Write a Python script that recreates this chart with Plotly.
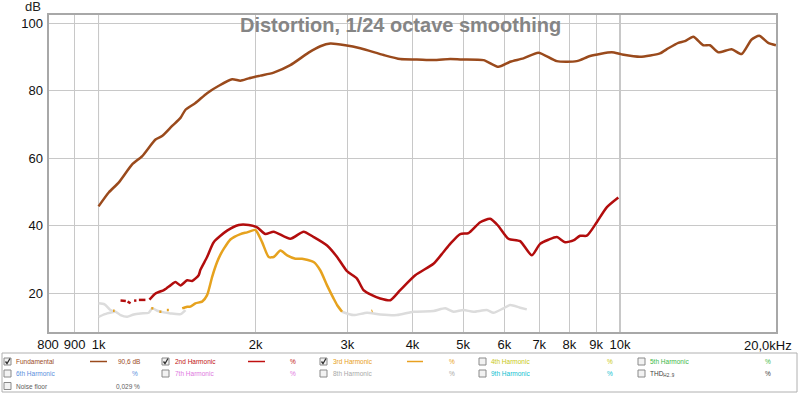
import plotly.graph_objects as go

# ---------------- data ----------------
fund_freq = [1000, 1046, 1094, 1160, 1213, 1286, 1324, 1384, 1436, 1468, 1534, 1615, 1701, 1804, 1871,
             1941, 2043, 2167, 2332, 2528, 2663, 2783, 2973, 3177, 3521, 3789, 4078, 4388, 4724, 4938,
             5473, 5846, 6156, 6528, 6975, 7564, 8260, 8762, 9641, 10076, 10922, 11929, 12377, 12935,
             13322, 13819, 14443, 14874, 15430, 16368, 17110, 17882, 18492, 19239, 19905]
fund_db = [45.8, 49.9, 52.9, 58.2, 60.7, 65.6, 66.6, 69.6, 72.0, 74.4, 76.4, 79.3, 81.5, 83.4, 83.0,
           83.7, 84.5, 85.4, 87.6, 91.3, 93.2, 94.0, 93.5, 92.6, 90.6, 89.4, 89.3, 89.1, 89.4, 89.3,
           89.1, 87.1, 88.6, 89.6, 91.3, 88.8, 88.8, 90.3, 91.4, 90.8, 90.1, 91.1, 92.6, 94.2,
           94.7, 96.0, 93.5, 93.5, 91.4, 92.3, 90.9, 95.2, 96.3, 94.2, 93.5]

h2_freq = [1102, 1128, None, 1137, 1152, None, 1170, 1182, None, 1195, 1230, None,
           1252, 1286, 1334, 1349, 1374, 1404, 1436, 1479, 1512, 1556, 1568, 1615, 1663, 1764, 1857,
           1941, 2014, 2089, 2167, 2332, 2473, 2585, 2743, 2867, 2995, 3130, 3222, 3344, 3469, 3626,
           3789, 4049, 4388, 4587, 4724, 4938, 5122, 5394, 5636, 5836, 6109, 6433, 6773, 7026, 7289,
           7564, 7846, 8138, 8382, 8636, 9025, 9430, 9926]
h2_db = [17.9, 17.8, None, 17.6, 17.1, None, 17.9, 17.9, None, 18.1, 18.1, None,
         18.2, 20.0, 21.0, 21.5, 22.4, 23.4, 22.4, 23.9, 23.7, 25.4, 27.0, 30.8, 35.2, 38.6, 40.3,
         40.3, 39.6, 37.6, 38.3, 36.2, 38.3, 36.7, 34.2, 30.8, 26.6, 24.4, 21.0, 19.5, 18.5, 18.0,
         21.0, 25.4, 28.8, 32.3, 34.7, 37.6, 37.9, 41.1, 42.1, 40.1, 36.2, 35.5, 31.3, 34.7, 35.9,
         36.7, 35.2, 35.7, 37.1, 37.1, 41.1, 45.5, 48.4]

h3_freq = [1066, 1074, None, 1262, 1274, None, 1308, 1320, None, 1352, 1364, None,
           1447, 1479, 1500, 1534, 1580, 1615, 1652, 1688, 1713, 1738, 1790, 1871, 1927, 1999,
           2059, 2120, 2167, 2233, 2300, 2385, 2456, 2585, 2663, 2743, 2824, 2867, 2931, None,
           3338, 3352]
h3_db = [14.9, 14.9, None, 15.6, 15.6, None, 14.6, 14.6, None, 15.1, 15.1, None,
         15.6, 16.1, 16.1, 17.1, 17.6, 19.5, 25.0, 29.3, 31.5, 33.2, 36.0, 37.6, 38.1, 38.8,
         35.2, 30.8, 30.8, 32.7, 31.3, 30.3, 30.3, 29.3, 26.8, 22.4, 18.5, 16.6, 14.6, None,
         14.8, 14.9]

noise_freq = [1000, 1027, 1054, 1078, None,
              1000, 1039, 1078, 1102, 1135, 1168, 1204, 1248, 1268, 1296, 1334, 1374, 1436, 1468, None,
              2931, 3084, 3272, 3469, 3735, 4018, 4388, 4622, 4794, 5011, 5236, 5553, 5720, 5976,
              6156, 6433, 6626]
noise_db = [17.1, 16.8, 15.1, 14.6, None,
            13.1, 14.1, 14.6, 13.6, 13.1, 13.8, 14.1, 14.3, 15.6, 14.9, 14.4, 14.1, 13.9, 15.1, None,
            14.6, 13.6, 14.3, 13.8, 13.6, 14.6, 14.8, 15.6, 14.6, 15.1, 14.6, 15.1, 14.3, 15.6,
            16.6, 15.8, 15.3]

x_tickvals = [800, 900, 1000, 2000, 3000, 4000, 5000, 6000, 7000, 8000, 9000, 10000]
x_ticktext = ["800", "900", "1k", "2k", "3k", "4k", "5k", "6k", "7k", "8k", "9k", "10k"]
y_tickvals = [20, 40, 60, 80, 100]

# ---------------- styles ----------------
C_FUND = "#9A4A1C"
C_H2 = "#B20D0D"
C_H3 = "#E6A21E"
C_NOISE = "#DCDCDC"
FONT = "Liberation Sans"

W, H = 800, 394
L, R, T, B = 48, 23, 14, 61
PW, PH = W - L - R, H - T - B


def px(x):
    return (x - L) / PW


def py(y):
    return (H - B - y) / PH


fig = go.Figure()
fig.add_trace(go.Scatter(x=noise_freq, y=noise_db, mode="lines", line=dict(color=C_NOISE, width=2.5, shape="spline", smoothing=0.6), connectgaps=False, hoverinfo="skip"))
fig.add_trace(go.Scatter(x=h3_freq, y=h3_db, mode="lines", line=dict(color=C_H3, width=2.5, shape="spline", smoothing=0.6), connectgaps=False))
fig.add_trace(go.Scatter(x=h2_freq, y=h2_db, mode="lines", line=dict(color=C_H2, width=2.5, shape="spline", smoothing=0.6), connectgaps=False))
fig.add_trace(go.Scatter(x=fund_freq, y=fund_db, mode="lines", line=dict(color=C_FUND, width=2.5, shape="spline", smoothing=0.6)))

shapes = []
# darker decade grid lines
for f in (1000, 10000):
    shapes.append(dict(type="line", xref="x", yref="paper", x0=f, x1=f, y0=0, y1=1,
                       line=dict(color="#8C8C8C", width=1), layer="below"))
# plot frame
shapes.append(dict(type="rect", xref="paper", yref="paper", x0=0, x1=1, y0=0, y1=1,
                   line=dict(color="#A8A8A8", width=2)))
# legend box
shapes.append(dict(type="rect", xref="paper", yref="paper", x0=px(2), x1=px(797), y0=py(353), y1=py(392),
                   line=dict(color="#B0B0B0", width=1), fillcolor="white"))

annotations = []
annotations.append(dict(text="<b>Distortion, 1/24 octave smoothing</b>", xref="paper", yref="paper",
                        x=px(400), y=py(25), showarrow=False, font=dict(family=FONT, size=20, color="#858585"),
                        xanchor="center", yanchor="middle"))
annotations.append(dict(text="dB", xref="paper", yref="paper", x=px(33), y=py(6), showarrow=False,
                        font=dict(family=FONT, size=13, color="#222"), xanchor="center", yanchor="middle"))
annotations.append(dict(text="20,0kHz", xref="paper", yref="paper", x=px(794), y=py(345), showarrow=False,
                        font=dict(family=FONT, size=13, color="#111"), xanchor="right", yanchor="middle"))

rows = [361.5, 373.5, 386]
legend_items = [
    # (col checkbox x, text x, row, label, color, checked, line sample, value text, value right x)
    (4, 14, 0, "Fundamental", C_FUND, True, (90, 107), "90,6 dB", 142),
    (162, 173, 0, "2nd Harmonic", "#C01010", True, (248, 265), "%", 298),
    (320, 331, 0, "3rd Harmonic", "#E8A020", True, (407, 423), "%", 457),
    (479, 489, 0, "4th Harmonic", "#C8C810", False, None, "%", 615),
    (638, 648, 0, "5th Harmonic", "#40B848", False, None, "%", 773),
    (4, 14, 1, "6th Harmonic", "#5A8EDC", False, None, "%", 140),
    (162, 173, 1, "7th Harmonic", "#E078E0", False, None, "%", 298),
    (320, 331, 1, "8th Harmonic", "#A8A8A8", False, None, "%", 457),
    (479, 489, 1, "9th Harmonic", "#10C0D0", False, None, "%", 615),
    (638, 648, 1, "THD<sub>H2..9</sub>", "#404040", False, None, "%", 773),
    (4, 14, 2, "Noise floor", "#606060", False, None, "0,029 %", 142),
]
for cbx, tx, r, label, col, checked, sample, val, vx in legend_items:
    yc = rows[r]
    shapes.append(dict(type="rect", xref="paper", yref="paper", x0=px(cbx), x1=px(cbx + 7),
                       y0=py(yc + 3.5), y1=py(yc - 3.5), line=dict(color="#8A8A8A", width=1), fillcolor="#F2F2F2"))
    if checked:
        path = "M {} {} L {} {} L {} {}".format(px(cbx + 1.5), py(yc), px(cbx + 3), py(yc + 2), px(cbx + 6), py(yc - 3))
        shapes.append(dict(type="path", xref="paper", yref="paper", path=path, line=dict(color="#303030", width=1.3)))
    if sample:
        shapes.append(dict(type="line", xref="paper", yref="paper", x0=px(sample[0]), x1=px(sample[1]),
                           y0=py(yc), y1=py(yc), line=dict(color=col, width=1.5)))
    annotations.append(dict(text=label, xref="paper", yref="paper", x=px(tx), y=py(yc), showarrow=False,
                            font=dict(family=FONT, size=6.5, color=col), xanchor="left", yanchor="middle"))
    annotations.append(dict(text=val, xref="paper", yref="paper", x=px(vx), y=py(yc), showarrow=False,
                            font=dict(family=FONT, size=6.5, color=col), xanchor="right", yanchor="middle"))

fig.update_layout(
    width=W, height=H, autosize=False,
    margin=dict(l=L, r=R, t=T, b=B, pad=0),
    paper_bgcolor="white", plot_bgcolor="white",
    showlegend=False,
    shapes=shapes, annotations=annotations,
    font=dict(family=FONT, size=13, color="#111"),
    xaxis=dict(type="log", range=[2.90309, 4.30103], tickvals=x_tickvals, ticktext=x_ticktext,
               showgrid=True, gridcolor="#C8C8C8", gridwidth=1, zeroline=False, ticks="",
               ticklabelstandoff=2,
               tickfont=dict(family=FONT, size=13, color="#111"), fixedrange=True),
    yaxis=dict(range=[8.3, 102.75], tickvals=y_tickvals, showgrid=True, gridcolor="#C8C8C8", gridwidth=1,
               zeroline=False, ticks="", ticklabelstandoff=4,
               tickfont=dict(family=FONT, size=13, color="#111"), fixedrange=True),
)

fig.write_html("out.html", config={"displayModeBar": False},
               post_script="document.body.style.margin='0';document.body.style.overflow='hidden';")
